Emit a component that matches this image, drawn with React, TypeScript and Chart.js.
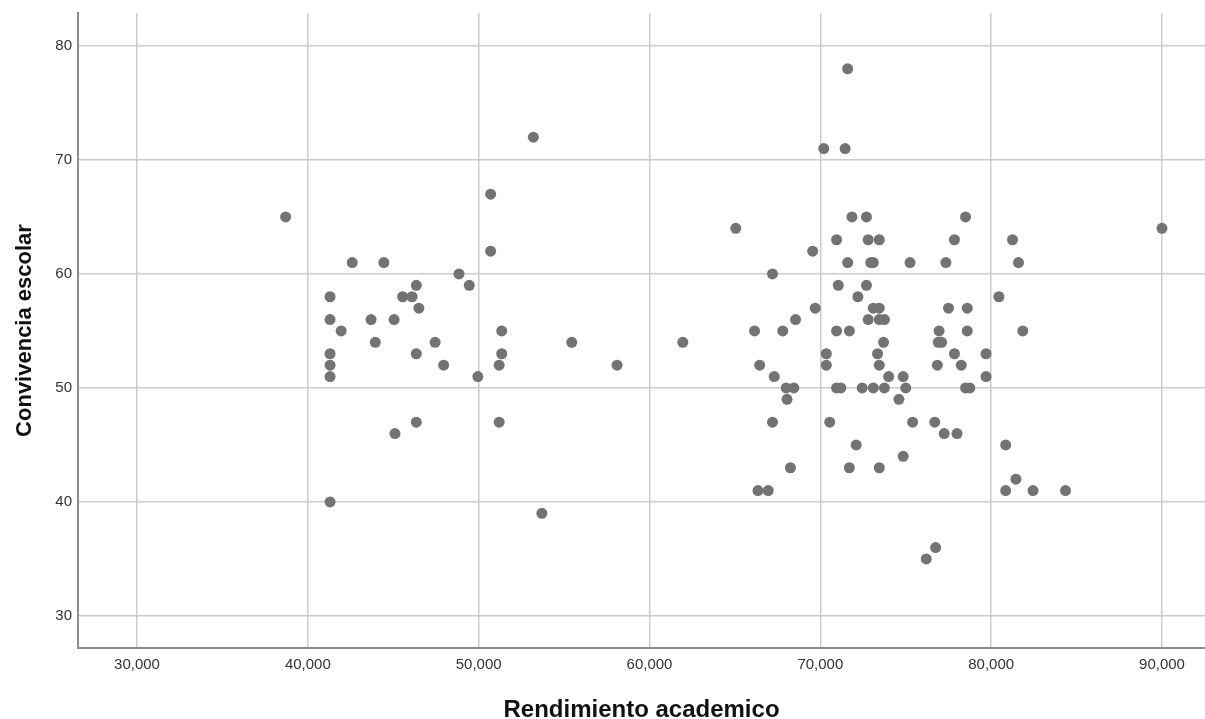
import React, { useEffect, useRef } from "react";
import { Chart, registerables } from "chart.js";

Chart.register(...registerables);

// Rendimiento academico (x)
const rendimiento: number[] = [
  38700, 41300, 41300, 41300, 41300, 41300, 41300, 41950, 42600, 43700,
  43950, 44450, 45050, 45100, 45550, 46100, 46350, 46350, 46350, 46500,
  47450, 47950, 48850, 49450, 49950, 50700, 50700, 51350, 51350, 51200,
  51200, 53200, 53700, 55450, 58100, 61950,
  65050, 66150, 66450, 66350, 66950, 67200, 67300, 67200, 67800, 68000,
  68450, 68050, 68250, 68550, 69550, 69700, 70200, 70350, 70350, 70550,
  70950, 70950, 70950, 71200, 71050, 71450, 71600, 71600, 71700, 71700,
  71850, 72100, 72200, 72450, 72700, 72700, 72800, 72800, 72950, 73100,
  73100, 73100, 73350, 73450, 73450, 73450, 73450, 73450, 73750, 73700,
  73750, 74000, 74600, 74850, 74850, 75000, 75250, 75400, 76200, 76750,
  76700, 76900, 77100, 76850, 76950, 77250, 77350, 77500, 77850, 77850,
  78000, 78250, 78500, 78600, 78600, 78500, 78750, 79700, 79700, 80450,
  80850, 80850, 81250, 81450, 81600, 81850, 82450, 84350, 90000,
];

// Convivencia escolar (y)
const convivencia: number[] = [
  65, 58, 56, 53, 52, 51, 40, 55, 61, 56,
  54, 61, 56, 46, 58, 58, 59, 53, 47, 57,
  54, 52, 60, 59, 51, 67, 62, 55, 53, 52,
  47, 72, 39, 54, 52, 54,
  64, 55, 52, 41, 41, 60, 51, 47, 55, 50,
  50, 49, 43, 56, 62, 57, 71, 53, 52, 47,
  63, 55, 50, 50, 59, 71, 78, 61, 55, 43,
  65, 45, 58, 50, 65, 59, 63, 56, 61, 61,
  57, 50, 53, 63, 57, 56, 52, 43, 56, 54,
  50, 51, 49, 51, 44, 50, 61, 47, 35, 36,
  47, 54, 54, 52, 55, 46, 61, 57, 63, 53,
  46, 52, 65, 57, 55, 50, 50, 53, 51, 58,
  45, 41, 63, 42, 61, 55, 41, 41, 64,
];

const xTickValues: number[] = [30000, 40000, 50000, 60000, 70000, 80000, 90000];
const xTickLabels: string[] = ["30,000", "40,000", "50,000", "60,000", "70,000", "80,000", "90,000"];
const yTickValues: number[] = [30, 40, 50, 60, 70, 80];
const yTickLabels: string[] = ["30", "40", "50", "60", "70", "80"];

const xTitle = "Rendimiento academico";
const yTitle = "Convivencia escolar";

const FONT = "'Liberation Sans', Arial, Helvetica, sans-serif";

export default function App() {
  const canvasRef = useRef<HTMLCanvasElement | null>(null);

  useEffect(() => {
    if (!canvasRef.current) return;
    const points = rendimiento.map((x, i) => ({ x, y: convivencia[i] }));
    const chart = new Chart(canvasRef.current, {
      type: "scatter",
      data: {
        datasets: [
          {
            data: points,
            backgroundColor: "#737373",
            borderColor: "#737373",
            borderWidth: 0,
            pointRadius: 5.5,
            pointHoverRadius: 5.5,
          },
        ],
      },
      options: {
        responsive: false,
        animation: false,
        events: [],
        layout: { autoPadding: false, padding: { top: 13, right: 0, left: 0, bottom: 0 } },
        plugins: { legend: { display: false }, tooltip: { enabled: false } },
        scales: {
          x: {
            type: "linear",
            min: 26546,
            max: 92517,
            afterBuildTicks: (scale: any) => {
              scale.ticks = xTickValues.map((value) => ({ value }));
            },
            afterFit: (scale: any) => {
              scale.height = 71;
              scale.paddingLeft = 0;
              scale.paddingRight = 0;
            },
            ticks: {
              autoSkip: false,
              maxRotation: 0,
              padding: 8,
              color: "#333333",
              font: { family: FONT, size: 15 },
              callback: (value: any) => xTickLabels[xTickValues.indexOf(Number(value))],
            },
            grid: { color: "#cccccc", lineWidth: 1.5, drawTicks: false },
            border: { display: true, color: "#8c8c8c", width: 2 },
            title: {
              display: true,
              text: xTitle,
              color: "#111111",
              padding: { top: 0, bottom: 0 },
              font: { family: FONT, size: 24, weight: "bold", lineHeight: "18px" },
            },
          },
          y: {
            type: "linear",
            min: 27.19,
            max: 82.89,
            afterBuildTicks: (scale: any) => {
              scale.ticks = yTickValues.map((value) => ({ value }));
            },
            afterFit: (scale: any) => {
              scale.width = 78;
              scale.paddingTop = 0;
              scale.paddingBottom = 0;
            },
            ticks: {
              autoSkip: false,
              padding: 6,
              color: "#333333",
              font: { family: FONT, size: 15 },
              callback: (value: any) => yTickLabels[yTickValues.indexOf(Number(value))],
            },
            grid: { color: "#cccccc", lineWidth: 1.5, drawTicks: false },
            border: { display: true, color: "#8c8c8c", width: 2 },
            title: {
              display: true,
              text: yTitle,
              color: "#111111",
              padding: { top: 16, bottom: 0 },
              font: { family: FONT, size: 22, weight: "bold", lineHeight: "18px" },
            },
          },
        },
      },
    });
    return () => chart.destroy();
  }, []);

  return (
    <div
      style={{
        position: "fixed",
        left: 0,
        top: 0,
        width: 1205,
        height: 719,
        background: "#ffffff",
      }}
    >
      <canvas ref={canvasRef} width={1205} height={719} style={{ display: "block" }} />
    </div>
  );
}
